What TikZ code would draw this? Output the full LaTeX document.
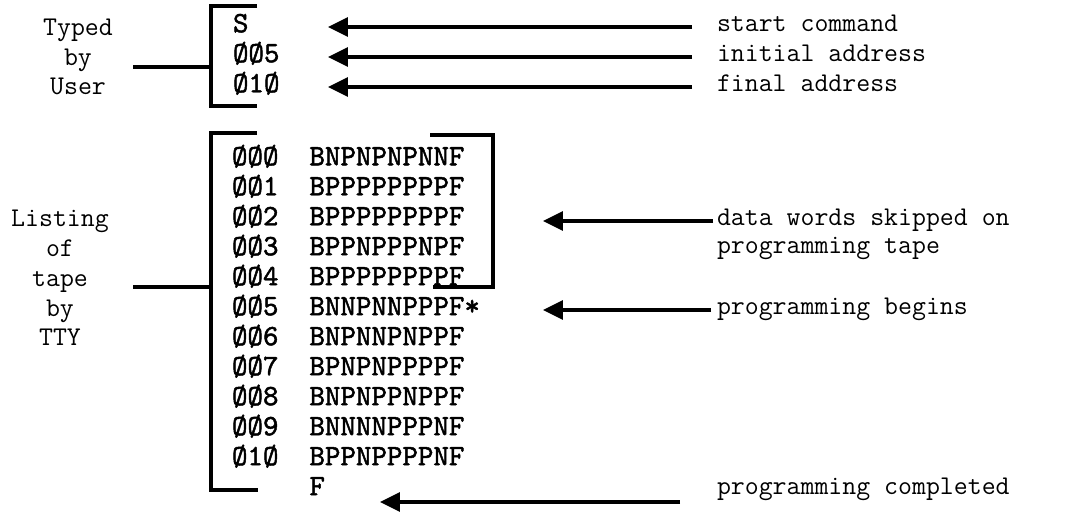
\documentclass[tikz,border=0pt]{standalone}
\usepackage{fontspec}
\newfontfamily\tapefont{lmmono10-regular.otf}[FakeBold=1.6]
\usetikzlibrary{arrows.meta, positioning}

\begin{document}
\begin{tikzpicture}[
  x=0.02cm, y=-0.02cm,
  every node/.style = {inner sep=0pt, outer sep=0pt},
  side/.style = {font=\ttfamily\fontsize{15.4}{17}\selectfont, align=center},
  remark/.style = {font=\ttfamily\fontsize{15.4}{17}\selectfont,
    anchor=west, text height=0.5em, text depth=0pt},
  listing/.style = {font=\tapefont\bfseries\fontsize{16.8}{17}\selectfont,
    anchor=west, text height=0.6em, text depth=0pt},
  brk/.style = {line width=1.8pt},
  arr/.style = {-{Triangle[length=0.4cm, width=0.38cm]}, line width=1.8pt}
]

\useasboundingbox (0,0) rectangle (1073,519);

% Side labels
\node[side] (typed) at (78,57) {Typed\\by\\User};
\node[side] (tty) at (60,278) {Listing\\of\\tape\\by\\TTY};

% Typed by user
\node[listing] (u0) at (233,27) {S};
\node[listing, below=0.6cm of u0.west, anchor=west] (u1) {ØØ5};
\node[listing, below=0.6cm of u1.west, anchor=west] (u2) {Ø1Ø};

% Tape listing
\node[listing] (r0) at (232,160) {ØØØ~~BNPNPNPNNF};
\node[listing, below=0.6cm of r0.west, anchor=west] (r1) {ØØ1~~BPPPPPPPPF};
\node[listing, below=0.6cm of r1.west, anchor=west] (r2) {ØØ2~~BPPPPPPPPF};
\node[listing, below=0.6cm of r2.west, anchor=west] (r3) {ØØ3~~BPPNPPPNPF};
\node[listing, below=0.6cm of r3.west, anchor=west] (r4) {ØØ4~~BPPPPPPPPF};
\node[listing, below=0.6cm of r4.west, anchor=west] (r5) {ØØ5~~BNNPNNPPPF*};
\node[listing, below=0.6cm of r5.west, anchor=west] (r6) {ØØ6~~BNPNNPNPPF};
\node[listing, below=0.6cm of r6.west, anchor=west] (r7) {ØØ7~~BPNPNPPPPF};
\node[listing, below=0.6cm of r7.west, anchor=west] (r8) {ØØ8~~BNPNPPNPPF};
\node[listing, below=0.6cm of r8.west, anchor=west] (r9) {ØØ9~~BNNNNPPPNF};
\node[listing, below=0.6cm of r9.west, anchor=west] (r10) {Ø1Ø~~BPPNPPPPNF};
\node[listing, below=0.6cm of r10.west, anchor=west] (r11) {\phantom{ØØØ~~}F};

% Remarks
\node[remark] (cmd) at (717,27) {start command};
\node[remark, below=0.6cm of cmd.west, anchor=west] (init) {initial address};
\node[remark, below=0.6cm of init.west, anchor=west] (final) {final address};
\node[remark] (skip) at (717,221) {data words skipped on};
\node[remark, below=0.56cm of skip.west, anchor=west] (skiptape) {programming tape};
\node[remark] (begin) at (717,310) {programming begins};
\node[remark] (done) at (717,490) {programming completed};

% Brackets
\coordinate (ujoin) at (133,67);
\coordinate (ljoin) at (133,287);
\draw[brk] (257,6) -- (211,6) -- (211,106) -- (257,106);
\draw[brk] (ujoin) -- (ujoin -| 211,0);
\draw[brk] (257,133) -- (211,133) -- (211,490) -- (258,490);
\draw[brk] (ljoin) -- (ljoin -| 211,0);
\draw[brk] (430,135) -- (493,135) -- (493,287) -- (433,287);

% Arrows
\coordinate (tipu) at (328,0);
\coordinate (tipl) at (543,0);
\coordinate (tipf) at (380,0);
\draw[arr] ([xshift=-0.5cm]cmd.west) -- (tipu |- cmd.west);
\draw[arr] ([xshift=-0.5cm]init.west) -- (tipu |- init.west);
\draw[arr] ([xshift=-0.5cm]final.west) -- (tipu |- final.west);
\draw[arr] ([xshift=-0.08cm]skip.west) -- (tipl |- skip.west);
\draw[arr] ([xshift=-0.12cm]begin.west) -- (tipl |- begin.west);
\draw[arr] ([xshift=-0.74cm, yshift=-0.24cm]done.west) -- ([yshift=-0.24cm]tipf |- done.west);

\end{tikzpicture}
\end{document}
